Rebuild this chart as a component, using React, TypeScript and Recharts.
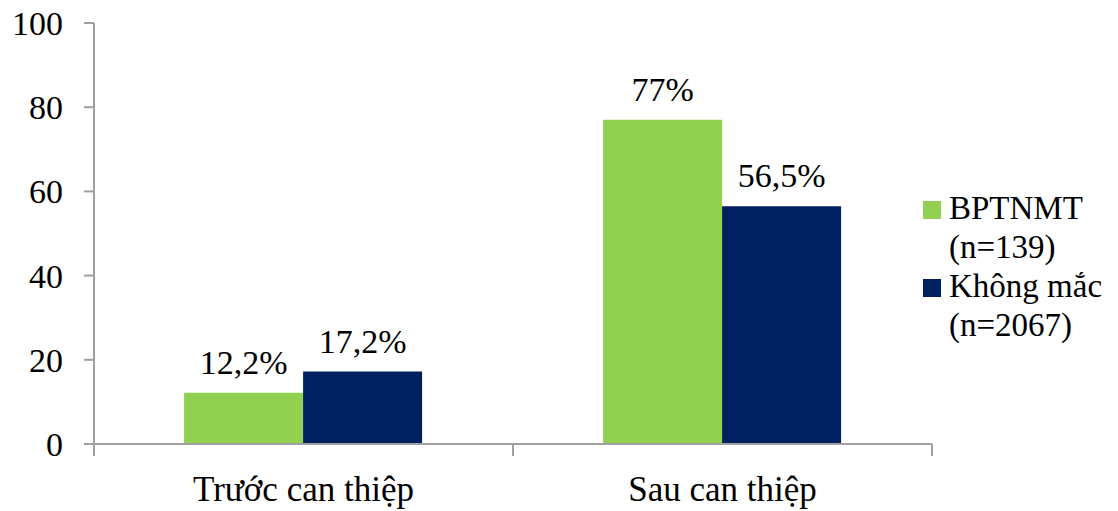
import React from 'react';
import { BarChart, Bar, XAxis, YAxis, Legend, LabelList } from 'recharts';

const categories = ['Trước can thiệp', 'Sau can thiệp'];
const bptnmt = [12.2, 77];
const khongMac = [17.2, 56.5];
const bptnmtLabels = ['12,2%', '77%'];
const khongMacLabels = ['17,2%', '56,5%'];
const yTicks = [0, 20, 40, 60, 80, 100];

const seriesNames = [
  { key: 'bptnmt', lines: ['BPTNMT', '(n=139)'], color: '#92D050' },
  { key: 'khongMac', lines: ['Không mắc', '(n=2067)'], color: '#002060' },
];

const data = categories.map((name, i) => ({
  name,
  bptnmt: bptnmt[i],
  khongMac: khongMac[i],
  bptnmtLabel: bptnmtLabels[i],
  khongMacLabel: khongMacLabels[i],
}));

const FONT = "'Liberation Serif', Tinos, 'Times New Roman', 'DejaVu Serif', serif";
const AXIS = '#a0a0a0';
const X_MARGIN = 32;

// category label plus tick marks on both edges of its band
function CategoryTick(props: any) {
  const { x, y, payload } = props;
  const half = payload.offset || 0;
  const axisY = y - X_MARGIN;
  return (
    <g>
      <line x1={x - half} x2={x - half} y1={axisY} y2={axisY + 12} stroke={AXIS} strokeWidth={2} />
      <line x1={x + half} x2={x + half} y1={axisY} y2={axisY + 12} stroke={AXIS} strokeWidth={2} />
      <text x={x} y={y} dy="0.71em" textAnchor="middle" fill="#000" fontSize={35} fontFamily={FONT}>
        {payload.value}
      </text>
    </g>
  );
}

function SideLegend() {
  return (
    <div style={{ fontFamily: FONT, fontSize: 33, lineHeight: '39px', color: '#000', textAlign: 'left' }}>
      {seriesNames.map((s) => (
        <div key={s.key} style={{ position: 'relative', paddingLeft: 26 }}>
          <span
            style={{
              position: 'absolute',
              left: 0,
              top: 12,
              width: 18,
              height: 18,
              background: s.color,
            }}
          />
          {s.lines.map((l) => (
            <div key={l} style={{ whiteSpace: 'nowrap' }}>{l}</div>
          ))}
        </div>
      ))}
    </div>
  );
}

export default function App() {
  return (
    <div style={{ position: 'absolute', left: 0, top: 0, background: '#fff' }}>
      <BarChart
        width={1118}
        height={511}
        data={data}
        margin={{ top: 23, right: 186, left: 0, bottom: 0 }}
        barGap={0}
        barCategoryGap="21.5%"
      >
        <XAxis
          dataKey="name"
          axisLine={{ stroke: AXIS, strokeWidth: 2 }}
          tickLine={false}
          tickSize={0}
          tickMargin={X_MARGIN}
          height={67}
          interval={0}
          tick={<CategoryTick />}
        />
        <YAxis
          domain={[0, 100]}
          ticks={yTicks}
          width={94}
          axisLine={{ stroke: AXIS, strokeWidth: 2 }}
          tickLine={{ stroke: AXIS, strokeWidth: 2 }}
          tickSize={10}
          tickMargin={21}
          tick={{ fill: '#000', fontSize: 34, fontFamily: FONT }}
        />
        <Legend
          layout="vertical"
          align="center"
          verticalAlign="middle"
          content={<SideLegend />}
          wrapperStyle={{ left: 923, top: 189, width: 195 }}
        />
        <Bar dataKey="bptnmt" fill="#92D050" isAnimationActive={false}>
          <LabelList
            dataKey="bptnmtLabel"
            position="top"
            offset={19}
            fill="#000"
            fontSize={34}
            fontFamily={FONT}
          />
        </Bar>
        <Bar dataKey="khongMac" fill="#002060" isAnimationActive={false}>
          <LabelList
            dataKey="khongMacLabel"
            position="top"
            offset={19}
            fill="#000"
            fontSize={34}
            fontFamily={FONT}
          />
        </Bar>
      </BarChart>
    </div>
  );
}
